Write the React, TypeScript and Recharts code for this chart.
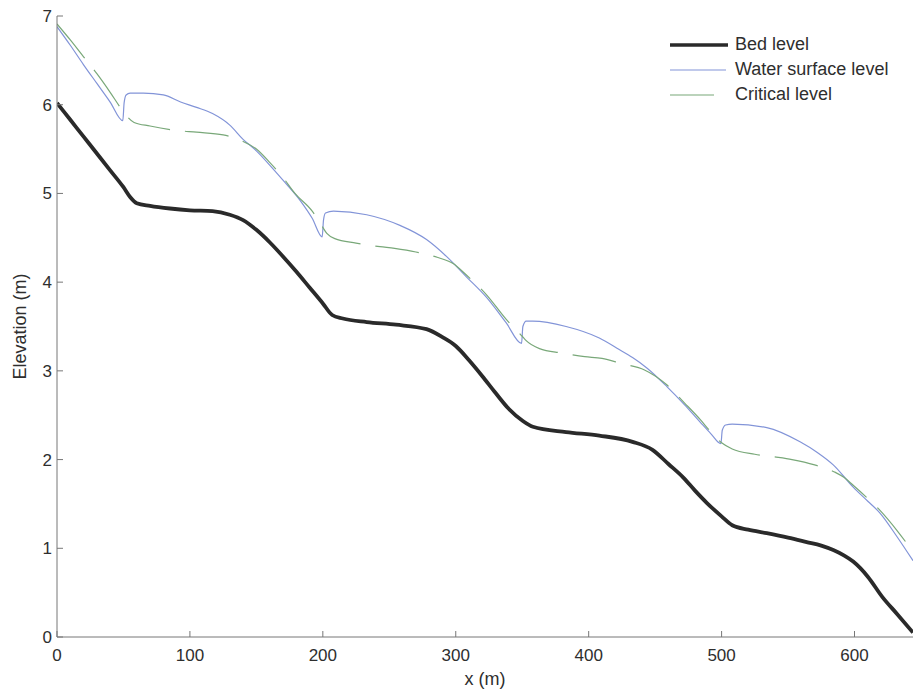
import React from "react";
import { LineChart, Line, XAxis, YAxis } from "recharts";

// chainage (m) and elevation (m)
const bedLevel: [number, number][] = [
  [0, 6.02], [10, 5.83], [20, 5.64], [30, 5.45], [40, 5.26], [50, 5.07],
  [55, 4.96], [60, 4.89], [70, 4.86], [85, 4.83], [100, 4.81], [117, 4.8],
  [130, 4.76], [140, 4.7], [150, 4.59], [160, 4.45], [170, 4.29], [180, 4.12],
  [190, 3.94], [200, 3.76], [207, 3.63], [215, 3.59], [233, 3.55], [255, 3.52],
  [278, 3.47], [290, 3.38], [300, 3.28], [310, 3.12], [320, 2.94], [330, 2.75],
  [340, 2.57], [350, 2.44], [358, 2.37], [383, 2.31], [408, 2.27], [433, 2.2],
  [448, 2.11], [460, 1.95], [471, 1.8], [480, 1.65], [489, 1.51], [500, 1.36],
  [508, 1.26], [520, 1.21], [534, 1.17], [550, 1.12], [564, 1.07], [575, 1.03],
  [584, 0.98], [592, 0.92], [599, 0.85], [610, 0.68], [621, 0.45], [632, 0.26],
  [644, 0.05],
];

const waterSurface: [number, number][] = [
  [0, 6.88], [10, 6.67], [20, 6.45], [30, 6.24], [40, 6.03], [49.5, 5.82],
  [50.5, 6.02], [52, 6.11], [55, 6.13], [65, 6.13], [80, 6.11], [93, 6.03],
  [105, 5.97], [117, 5.9], [130, 5.77], [140, 5.61], [150, 5.48], [160, 5.32],
  [170, 5.15], [183, 4.92], [192, 4.72], [199.5, 4.51], [200.5, 4.7], [202, 4.78],
  [208, 4.8], [233, 4.76], [258, 4.64], [278, 4.48], [293, 4.29], [308, 4.06],
  [323, 3.83], [338, 3.54], [349.5, 3.31], [350.5, 3.5], [353, 3.56], [358, 3.56],
  [383, 3.5], [408, 3.37], [423, 3.24], [433, 3.15], [444, 3.03], [459, 2.82],
  [472, 2.62], [484, 2.42], [492, 2.29], [499.5, 2.18], [500.5, 2.33], [503, 2.39],
  [508, 2.4], [534, 2.36], [559, 2.2], [572, 2.08], [584, 1.94], [599, 1.69],
  [610, 1.53], [619, 1.4], [632, 1.13], [644, 0.86],
];

const criticalLevel: [number, number][] = [
  [0, 6.91], [10, 6.73], [20, 6.54], [30, 6.35], [40, 6.14], [48.5, 5.95],
  [52, 5.88], [58, 5.8], [70, 5.76], [90, 5.71], [105, 5.69], [125, 5.66],
  [138, 5.6], [150, 5.5], [160, 5.35], [170, 5.18], [179, 5.0], [192, 4.8],
  [199, 4.64], [203, 4.55], [209, 4.49], [225, 4.44], [243, 4.4], [254, 4.38],
  [270, 4.34], [286, 4.28], [298, 4.21], [308, 4.08], [323, 3.86], [338, 3.58],
  [350, 3.39], [353, 3.34], [363, 3.25], [380, 3.2], [397, 3.16], [410, 3.14],
  [425, 3.08], [442, 3.01], [459, 2.84], [472, 2.64], [484, 2.45], [492, 2.31],
  [500, 2.19], [508, 2.12], [525, 2.06], [540, 2.03], [553, 2.0], [570, 1.94],
  [585, 1.86], [592, 1.8], [599, 1.71], [610, 1.56], [619, 1.43], [632, 1.2],
  [644, 0.96],
];

const xTicks = [0, 100, 200, 300, 400, 500, 600];
const yTicks = [0, 1, 2, 3, 4, 5, 6, 7];

const toPoints = (pairs: [number, number][]) => pairs.map(([x, y]) => ({ x, y }));

const AXIS = "#777777";
const TEXT = "#2e2e2e";

const legendItems = [
  { label: "Bed level", color: "#2a2a2a", width: 3.5, dash: undefined, len: 58 },
  { label: "Water surface level", color: "#8294d8", width: 1.2, dash: undefined, len: 56 },
  { label: "Critical level", color: "#79a879", width: 1.2, dash: "44 15", len: 58 },
];

export default function App() {
  return (
    <div
      style={{
        position: "absolute",
        left: 0,
        top: 0,
        width: 913,
        height: 692,
        background: "#fff",
        fontFamily: "'Liberation Sans', Arial, sans-serif",
      }}
    >
      <LineChart width={913} height={692} margin={{ top: 16, right: 0, bottom: 25, left: 0 }}>
        <XAxis
          dataKey="x"
          type="number"
          domain={[0, 644]}
          ticks={xTicks}
          interval={0}
          allowDataOverflow
          height={30}
          stroke={AXIS}
          tickSize={-6}
          tickMargin={18}
          tick={{ fill: TEXT, fontSize: 17 }}
          label={{ value: "x (m)", position: "bottom", offset: 5, fill: TEXT, fontSize: 18 }}
        />
        {/* box top edge with inward ticks, MATLAB style */}
        <XAxis
          xAxisId="top"
          orientation="top"
          type="number"
          domain={[0, 644]}
          ticks={xTicks}
          interval={0}
          height={0}
          stroke={AXIS}
          tickSize={-6}
          tick={false}
        />
        <YAxis
          type="number"
          domain={[0, 7]}
          ticks={yTicks}
          interval={0}
          width={57}
          stroke={AXIS}
          tickSize={-6}
          tickMargin={11}
          tick={{ fill: TEXT, fontSize: 17 }}
          label={{
            value: "Elevation (m)",
            angle: -90,
            position: "insideLeft",
            offset: 20,
            fill: TEXT,
            fontSize: 18,
            style: { textAnchor: "middle" },
          }}
        />
        <Line
          data={toPoints(waterSurface)}
          dataKey="y"
          type="monotone"
          stroke="#8294d8"
          strokeWidth={1.2}
          dot={false}
          isAnimationActive={false}
        />
        <Line
          data={toPoints(criticalLevel)}
          dataKey="y"
          type="monotone"
          stroke="#79a879"
          strokeWidth={1.2}
          strokeDasharray="44 15"
          dot={false}
          isAnimationActive={false}
        />
        <Line
          data={toPoints(bedLevel)}
          dataKey="y"
          type="monotone"
          stroke="#2a2a2a"
          strokeWidth={3.8}
          dot={false}
          isAnimationActive={false}
        />
      </LineChart>

      {/* legend, top right inside the axes */}
      <div style={{ position: "absolute", left: 670, top: 32, color: TEXT, fontSize: 18 }}>
        {legendItems.map((item) => (
          <div key={item.label} style={{ display: "flex", alignItems: "center", height: 25 }}>
            <svg width={58} height={10} style={{ display: "block" }}>
              <line
                x1={0}
                y1={5}
                x2={item.len}
                y2={5}
                stroke={item.color}
                strokeWidth={item.width}
                strokeDasharray={item.dash}
              />
            </svg>
            <span style={{ marginLeft: 7, lineHeight: "25px" }}>{item.label}</span>
          </div>
        ))}
      </div>
    </div>
  );
}
